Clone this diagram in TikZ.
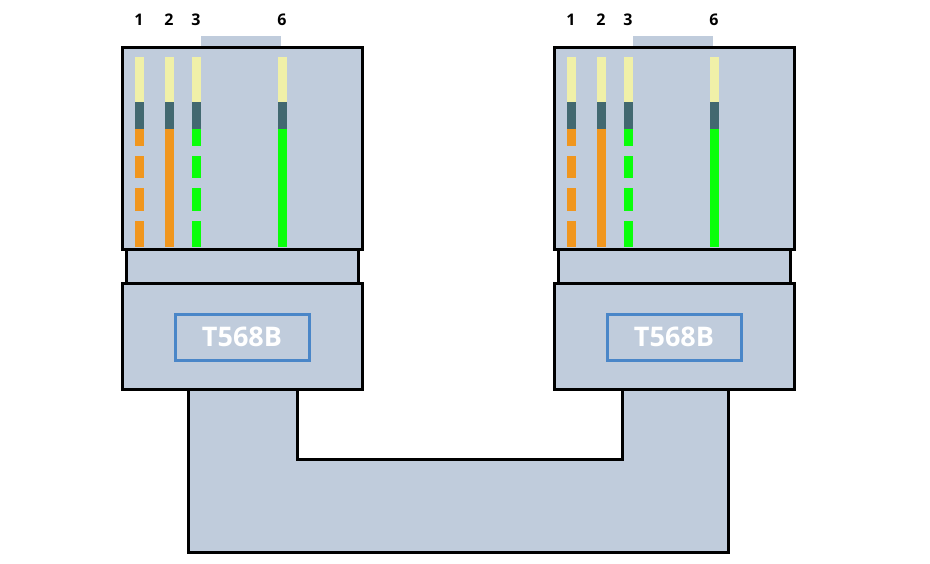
\documentclass[tikz,border=0pt]{standalone}
\usepackage{fontspec}
\setmainfont{Open Sans}
\usetikzlibrary{positioning,calc}
\definecolor{plug}{HTML}{C0CCDC}
\definecolor{pale}{HTML}{F0F0A8}
\definecolor{slate}{HTML}{426870}
\definecolor{wireor}{HTML}{F0961E}
\definecolor{wiregr}{HTML}{0AFF0A}
\definecolor{lblue}{HTML}{4A86C8}
\begin{document}
\begin{tikzpicture}[x=1pt,y=-1pt,
    body/.style={draw=black, line width=3pt, fill=plug},
    wire/.style={line width=9pt}]
    \useasboundingbox (0,0) rectangle (930,563);
    % cable between the two plugs
    \draw[body] (188,389) -- (188,552) -- (728,552) -- (728,389) -- (622,389)
      -- (622,459) -- (297,459) -- (297,389) -- cycle;
    \foreach \dx/\nm in {0/L,432/R} {
    \begin{scope}[xshift=\dx]
      \fill[plug] (201,36) rectangle (281,47);
      \draw[body] (122,47) rectangle (362,249);
      \draw[body] (126,249) rectangle (358,283);
      \draw[body] (122,283) rectangle (362,389);
      \node[draw=lblue, line width=3pt, minimum width=134pt, minimum height=46pt,
        text=white, font=\bfseries\fontsize{27}{27}\selectfont] (lbl\nm) at (242,337) {T568B};
      % wires
      \foreach \x/\c/\n in {139/wireor/1,169/wireor/2,196/wiregr/3,282/wiregr/6} {
        \draw[wire, pale] (\x,57) -- (\x,102);
        \draw[wire, slate] (\x,102) -- (\x,129);
        \node[font=\bfseries\fontsize{16}{16}\selectfont] at (\x,20) {\n};
      }
      \draw[wire, wireor] (169,129) -- (169,247);
      \draw[wire, wiregr] (282,129) -- (282,247);
      \foreach \x/\c in {139/wireor,196/wiregr}
        \foreach \a/\b in {129/146,156/178,188/211,221/247}
          \draw[wire, \c] (\x,\a) -- (\x,\b);
    \end{scope}
    }
\end{tikzpicture}
\end{document}
